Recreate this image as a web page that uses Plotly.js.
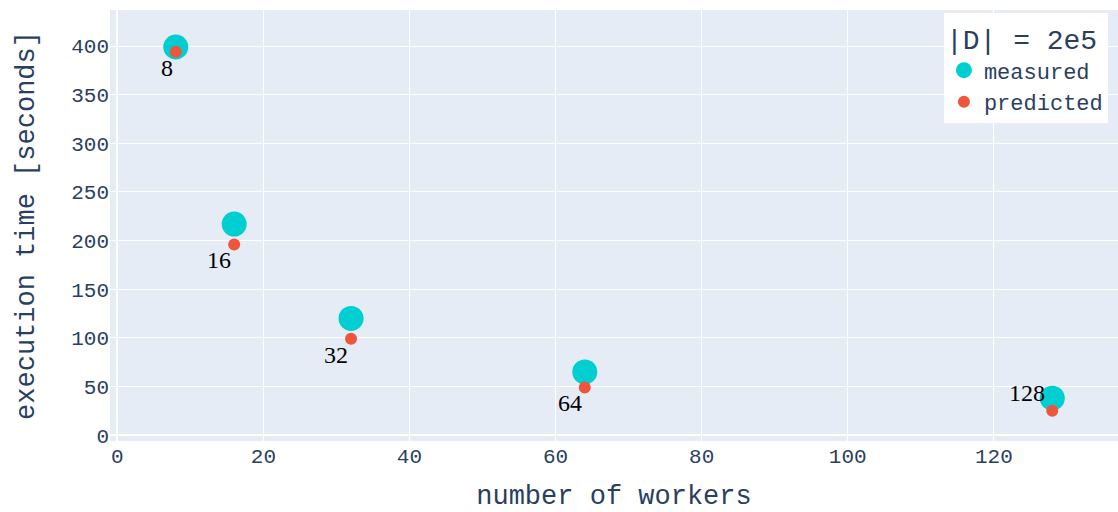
<!DOCTYPE html>
<html>
<head>
<meta charset="utf-8">
<script src="https://cdn.plot.ly/plotly-3.0.1.min.js"></script>
<style>html,body{margin:0;padding:0;background:#fff;}#chart{width:1118px;height:512px;}</style>
</head>
<body>
<div id="chart"></div>
<script>
const workers = [8, 16, 32, 64, 128];
const measured = [399, 217, 120, 65, 38];
const predicted = [394, 196, 99, 49, 25];
const labels = ["8", "16", "32", "64", "128"];
const legendTitle = "|D| = 2e5";

const mono = "Liberation Mono, Courier New, monospace";
const ink = "#2a3f5f";

const traces = [
  {x: workers, y: measured, mode: "markers", type: "scatter", name: "measured",
   marker: {color: "#00CED1", size: 25}},
  {x: workers, y: predicted, mode: "markers", type: "scatter", name: "predicted",
   marker: {color: "#EF553B", size: 12}}
];

const annotations = workers.map((w, i) => {
  const last = i === workers.length - 1;
  return {
    x: w, y: predicted[i], text: labels[i], showarrow: false,
    xanchor: "right", yanchor: last ? "bottom" : "top",
    xshift: last ? -5 : -1, yshift: last ? 3 : -1,
    font: {family: "Liberation Serif, Times New Roman, serif", size: 24, color: "#000"}
  };
});

const layout = {
  width: 1118, height: 512,
  margin: {l: 110, r: 0, t: 10, b: 71},
  paper_bgcolor: "#fff", plot_bgcolor: "#E5ECF6",
  font: {family: mono, color: ink, size: 21},
  xaxis: {range: [-1, 137], dtick: 20, gridcolor: "#fff", zerolinecolor: "#fff", zerolinewidth: 2,
          tickfont: {family: mono, size: 21, color: ink},
          title: {text: "number of workers", font: {family: mono, size: 27, color: ink}, standoff: 26}},
  yaxis: {range: [-6, 437], dtick: 50, gridcolor: "#fff", zerolinecolor: "#fff", zerolinewidth: 2,
          tickfont: {family: mono, size: 21, color: ink},
          title: {text: "execution time [seconds]", font: {family: mono, size: 27, color: ink}, standoff: 28}},
  legend: {x: 0.99, y: 0.993, xanchor: "right", yanchor: "top", bgcolor: "#fff",
           title: {text: legendTitle, font: {family: mono, size: 28, color: ink}},
           font: {family: mono, size: 22, color: ink}},
  annotations: annotations,
  showlegend: true
};

Plotly.newPlot("chart", traces, layout, {displayModeBar: false});
</script>
</body>
</html>
